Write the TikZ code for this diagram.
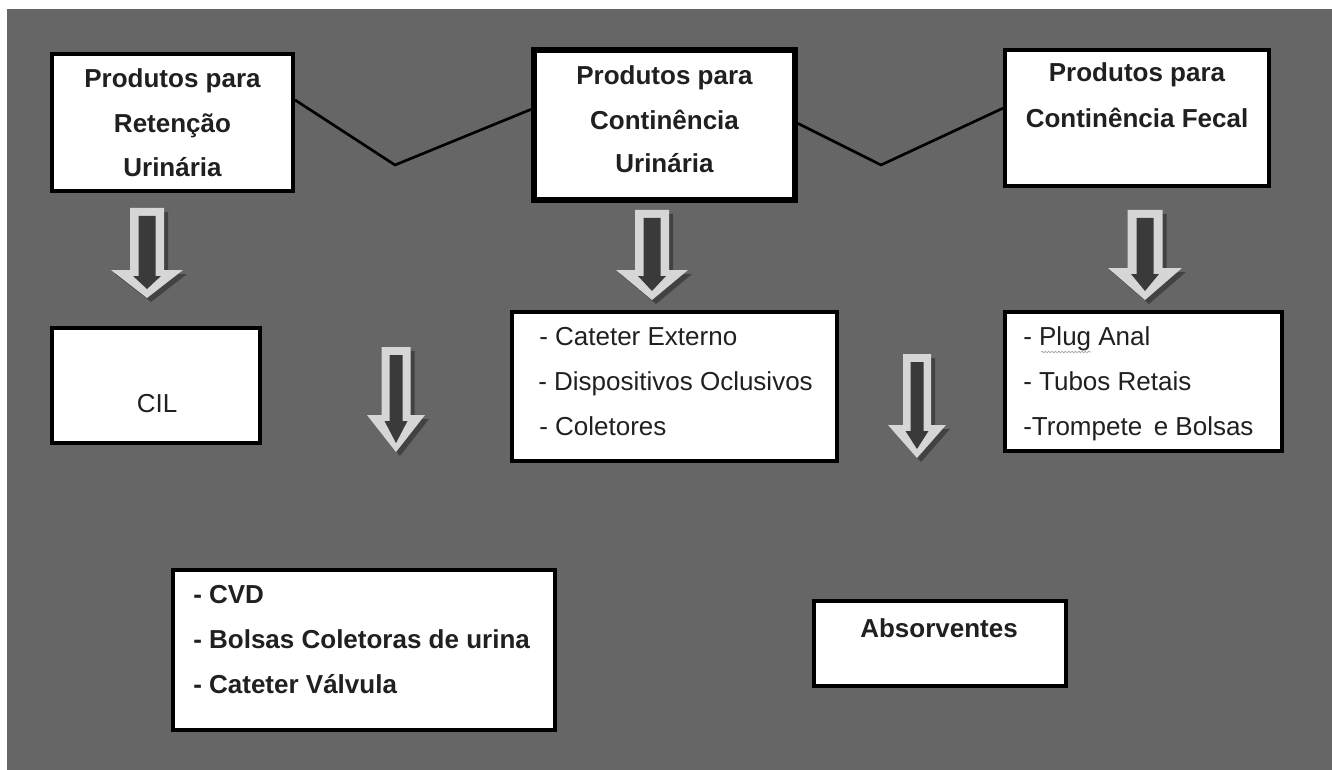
\documentclass[tikz,border=0pt]{standalone}
\usepackage{fontspec}
\setmainfont{Liberation Sans}
\usetikzlibrary{calc,decorations.pathmorphing}
\definecolor{bgc}{HTML}{666666}
\definecolor{arrlight}{HTML}{D6D6D6}
\definecolor{arrdark}{HTML}{3A3A3A}
\definecolor{txtc}{HTML}{202020}
\newcommand\bigarrow[8]{%
  \fill[black,opacity=.35] ({#1-#5+4},{#2+4}) -- ({#1+#5+4},{#2+4}) -- ({#1+#5+4},{#3+4}) -- ({#1+#6+4},{#3+4}) -- ({#1+4},{#4+4}) -- ({#1-#6+4},{#3+4}) -- ({#1-#5+4},{#3+4}) -- cycle;
  \fill[arrlight] ({#1-#5},{#2}) -- ({#1+#5},{#2}) -- ({#1+#5},{#3}) -- ({#1+#6},{#3}) -- ({#1},{#4}) -- ({#1-#6},{#3}) -- ({#1-#5},{#3}) -- cycle;
  \fill[arrdark] ({#1-#7},{#2+8}) -- ({#1+#7},{#2+8}) -- ({#1+#7},{#3+6}) -- ({#1+#8},{#3+6}) -- ({#1},{#4-9}) -- ({#1-#8},{#3+6}) -- ({#1-#7},{#3+6}) -- cycle;
}
\tikzset{
  box/.style={draw=black, fill=white, line width=3.3pt, inner sep=0pt},
  tb/.style={text=txtc, font=\fontsize{19.5}{24}\selectfont\bfseries, inner sep=0pt},
  tr/.style={text=txtc, font=\fontsize{19.5}{24}\selectfont, inner sep=0pt},
  conn/.style={draw=black, line width=2pt},
}
\begin{document}
\begin{tikzpicture}[x=0.75pt,y=-0.75pt]
\useasboundingbox (0,0) rectangle (1332,770);
\fill[white] (0,0) rectangle (1332,770);
\fill[bgc] (7,9) rectangle (1332,770);

% boxes
\node[box, minimum width=180.45pt, minimum height=102.45pt] (b1) at (172.5,122.5) {};
\node[box, line width=4.5pt, minimum width=195.75pt, minimum height=112.5pt] (b2) at (664.5,125) {};
\node[box, minimum width=197.7pt, minimum height=101.7pt] (b3) at (1137,118) {};
\node[box, minimum width=155.7pt, minimum height=85.95pt] (cil) at (156,385.5) {};
\node[box, minimum width=243.45pt, minimum height=111.45pt] (b2b) at (674.5,386.5) {};
\node[box, minimum width=207.45pt, minimum height=103.95pt] (b3b) at (1143.5,381.5) {};
\node[box, minimum width=286.2pt, minimum height=119.7pt] (cvd) at (364,650) {};
\node[box, minimum width=188.7pt, minimum height=63.45pt] (abs) at (940,643.5) {};

% connectors
\coordinate (v1) at (395,165);
\coordinate (v2) at (881,165);
\draw[conn] ($(b1.north east)!0.34!(b1.south east)$) -- (v1) -- ($(b2.north west)!0.40!(b2.south west)$);
\draw[conn] ($(b2.north east)!0.49!(b2.south east)$) -- (v2) -- ($(b3.north west)!0.43!(b3.south west)$);

% texts
\node[tb, anchor=base] (t1a) at (172.5,88) {Produtos para};
\node[tb, anchor=base] (t1b) at (172.5,133) {Retenção};
\node[tb, anchor=base] (t1c) at (172.5,177) {Urinária};
\node[tb, anchor=base] (t2a) at (664.5,85) {Produtos para};
\node[tb, anchor=base] (t2b) at (664.5,130) {Continência};
\node[tb, anchor=base] (t2c) at (664.5,173) {Urinária};
\node[tb, anchor=base] (t3a) at (1137,82) {Produtos para};
\node[tb, anchor=base] (t3b) at (1137,128) {Continência Fecal};
\node[tr, anchor=base] (tcil) at (157,412) {CIL};
\node[tr, anchor=base west] (t4a) at (539,345) {- Cateter Externo};
\node[tr, anchor=base west] (t4b) at (538,390) {- Dispositivos Oclusivos};
\node[tr, anchor=base west] (t4c) at (539,435) {- Coletores};
\node[tr, anchor=base west] (t5a) at (1023,345) {- Plug Anal};
\node[tr, anchor=base west] (t5b) at (1023,390) {- Tubos Retais};
\node[tr, anchor=base west] (t5c) at (1023,435) {-Trompete\,\ e\ Bolsas};
\node[tb, anchor=base west] (t6a) at (193,603) {- CVD};
\node[tb, anchor=base west] (t6b) at (193,648) {- Bolsas Coletoras de urina};
\node[tb, anchor=base west] (t6c) at (193,693) {- Cateter Válvula};
\node[tb, anchor=base] (tabs) at (939,637) {Absorventes};

\draw[draw=gray!70, line width=0.5pt, decorate, decoration={snake, segment length=2.5pt, amplitude=0.6pt}] (1041,352) -- (1091,352);

% arrows
\bigarrow{147}{208}{270}{298}{17}{36}{8.5}{14}
\bigarrow{652}{210}{270}{300}{17}{36}{8.5}{14}
\bigarrow{1145}{210}{268}{300}{17.5}{37}{8.5}{14}
\bigarrow{396}{347}{415}{452}{14.5}{29}{6.5}{11.5}
\bigarrow{917}{354}{425}{458}{14}{29}{6.5}{11.5}
\end{tikzpicture}
\end{document}
